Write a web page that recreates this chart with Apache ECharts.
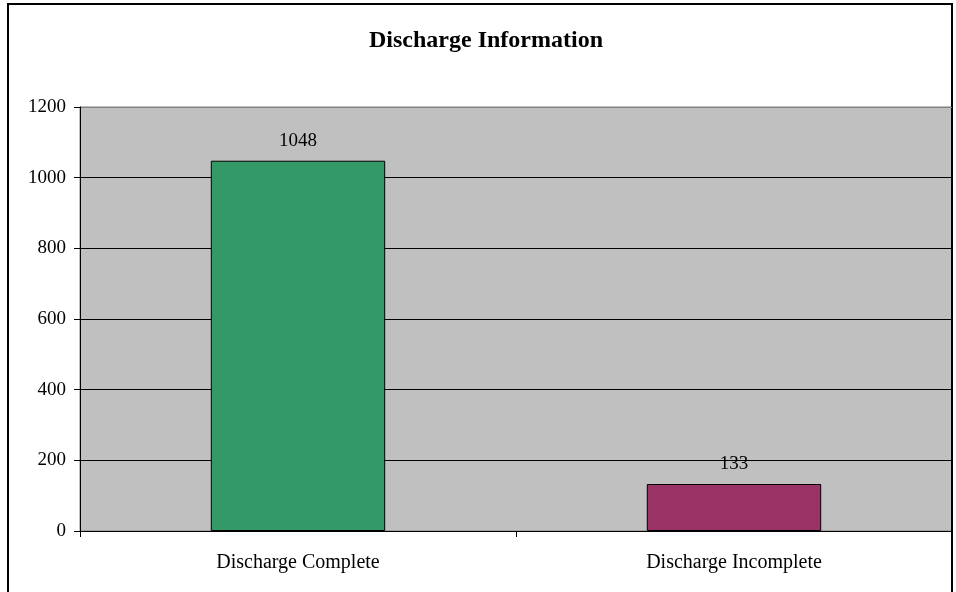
<!DOCTYPE html>
<html>
<head>
<meta charset="utf-8">
<title>Discharge Information</title>
<script src="https://cdn.jsdelivr.net/npm/echarts@6/dist/echarts.min.js"></script>
<style>
  html, body {
    margin: 0;
    padding: 0;
    background: #fff;
  }
  #chart {
    width: 956px;
    height: 592px;
  }
</style>
</head>
<body>
<div id="chart"></div>
<script>
// data
const categories = ['Discharge Complete', 'Discharge Incomplete']
const values = [1048, 133]
const barColors = ['#339966', '#993366']
const yTicks = [0, 200, 400, 600, 800, 1000, 1200]

const myChart = echarts.init(document.getElementById('chart'))

const serif = '"Liberation Serif", "Times New Roman", serif'

const option = {
  animation: false,
  title: {
    text: 'Discharge Information',
    left: 369,
    top: 29,
    padding: 0,
    textStyle: {
      color: '#000',
      fontFamily: serif,
      fontWeight: 'bold',
      fontSize: 24
    }
  },
  // outer frame of the chart area
  graphic: [
    {
      type: 'rect',
      shape: { x: 8, y: 4, width: 944, height: 620 },
      style: { fill: 'none', stroke: '#000', lineWidth: 2 },
      silent: true
    }
  ],
  grid: {
    left: 80,
    right: 4,
    top: 107,
    bottom: 61,
    show: true,
    backgroundColor: '#C0C0C0',
    borderColor: '#808080',
    borderWidth: 1
  },
  xAxis: {
    type: 'category',
    data: categories,
    axisLine: { lineStyle: { color: '#000', width: 1 } },
    axisTick: {
      show: true,
      alignWithLabel: false,
      length: 6,
      lineStyle: { color: '#000' }
    },
    axisLabel: {
      color: '#000',
      fontFamily: serif,
      fontSize: 20,
      margin: 22
    }
  },
  yAxis: {
    type: 'value',
    min: yTicks[0],
    max: yTicks[yTicks.length - 1],
    interval: 200,
    axisLine: { show: true, lineStyle: { color: '#000', width: 1 } },
    axisTick: { show: true, length: 6, lineStyle: { color: '#000' } },
    axisLabel: {
      color: '#000',
      fontFamily: serif,
      fontSize: 19,
      margin: 14,
      formatter: (v) => String(v)
    },
    splitLine: {
      show: true,
      lineStyle: {
        color: ['#000', '#000', '#000', '#000', '#000', '#000', '#808080'],
        width: 1
      }
    }
  },
  series: [
    {
      type: 'bar',
      barWidth: '40%',
      data: values.map((v, i) => ({
        value: v,
        itemStyle: { color: barColors[i] }
      })),
      itemStyle: {
        borderColor: '#000',
        borderWidth: 1
      },
      label: {
        show: true,
        position: 'top',
        distance: 10,
        color: '#000',
        fontFamily: serif,
        fontSize: 19
      }
    }
  ]
}

option && myChart.setOption(option)
</script>
</body>
</html>
